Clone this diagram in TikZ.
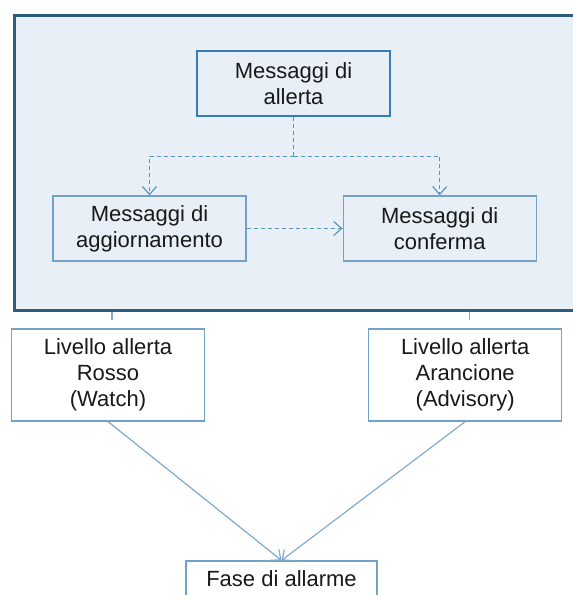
\documentclass[tikz,border=0pt]{standalone}
\usepackage{fontspec}
\setmainfont{Liberation Sans}
\usetikzlibrary{arrows.meta,positioning}
\definecolor{panelbg}{RGB}{233,239,246}
\definecolor{paneledge}{RGB}{44,94,124}
\definecolor{topedge}{RGB}{52,125,185}
\definecolor{boxedge}{RGB}{115,162,200}
\definecolor{dashcol}{RGB}{90,150,195}
\definecolor{linecol}{RGB}{130,170,205}
\definecolor{txt}{RGB}{25,25,25}

\begin{document}
\begin{tikzpicture}[>={Straight Barb[length=4pt,width=7pt]},font=\fontsize{11}{13}\selectfont,text=txt]
  \tikzstyle{box}=[draw=boxedge,line width=0.6pt,align=center,minimum width=96.5pt,minimum height=32.5pt,inner sep=0pt]
  \tikzstyle{dashline}=[draw=dashcol,line width=0.6pt,dash pattern=on 2pt off 1.5pt]
  \path[use as bounding box,clip] (0,0) rectangle (286.5pt,-297.5pt);
  \node[draw=paneledge,line width=1.5pt,fill=panelbg,minimum width=288pt,minimum height=147.5pt,inner sep=0pt] (panel) at (151pt,-81.25pt) {};
  \node[box,draw=topedge,line width=1.25pt] (alert) at (146.75pt,-41.75pt) {Messaggi di\\allerta};
  \node[box] (agg) at (74.75pt,-114.25pt) {Messaggi di\\aggiornamento};
  \node[box,right=48pt of agg] (conf) {Messaggi di\\conferma};
  \node[box,fill=white,minimum height=46pt] (rosso) at (54pt,-187.5pt) {Livello allerta\\Rosso\\(Watch)};
  \node[box,fill=white,minimum height=46pt,right=81.5pt of rosso] (arancio) {Livello allerta\\Arancione\\(Advisory)};
  \node[box,fill=white,minimum width=95.5pt,minimum height=18pt] (fase) at (140.75pt,-289.5pt) {Fase di allarme};
  \coordinate (split) at ([yshift=-19.5pt]alert.south);
  \draw[dashline] (alert.south) -- (split);
  \draw[dashline,->] (split) -| (agg.north);
  \draw[dashline,->] (split) -| (conf.north);
  \draw[dashline,->] (agg) -- (conf);
  \coordinate (stubL) at ([xshift=2pt,yshift=-4pt]rosso.north |- panel.south);
  \coordinate (stubR) at ([xshift=2pt,yshift=-4pt]arancio.north |- panel.south);
  \draw[linecol,line width=0.6pt] ([xshift=2pt]rosso.north |- panel.south) -- (stubL);
  \draw[linecol,line width=0.6pt] ([xshift=2pt]arancio.north |- panel.south) -- (stubR);
  \draw[linecol,line width=0.6pt,->] (rosso.south) -- (fase.north);
  \draw[linecol,line width=0.6pt,->] (arancio.south) -- (fase.north);
\end{tikzpicture}
\end{document}
